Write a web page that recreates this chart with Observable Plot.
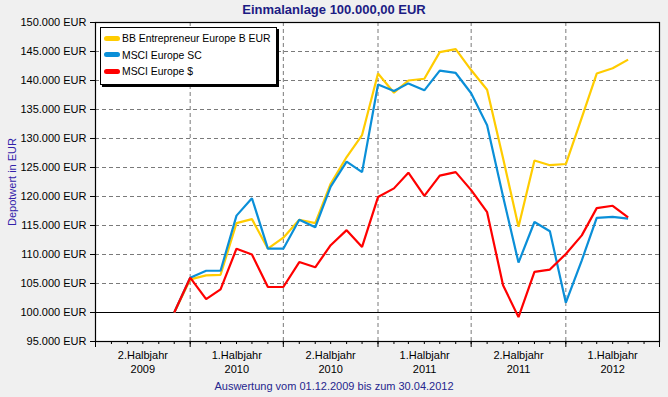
<!DOCTYPE html>
<html>
<head>
<meta charset="utf-8">
<script src="https://cdn.jsdelivr.net/npm/d3@7"></script>
<script src="https://cdn.jsdelivr.net/npm/@observablehq/plot@0.6"></script>
<style>
  html, body { margin: 0; padding: 0; background: #f0f0f0; }
  #wrap { position: relative; width: 668px; height: 397px; overflow: hidden; font-family: "Liberation Sans", Arial, sans-serif; }
  #chart { position: absolute; left: 0; top: 0; }
  .title { position: absolute; left: 0; width: 668px; top: 2px; text-align: center; font-weight: bold; font-size: 13px; color: #1c1c84; }
  .ylab { position: absolute; left: 12px; top: 182px; transform: translate(-50%, -50%) rotate(-90deg); white-space: nowrap; font-size: 11px; color: #3322aa; }
  .foot { position: absolute; left: 0; width: 668px; top: 380px; text-align: center; font-size: 11px; color: #26268e; }
  .legend { position: absolute; left: 100px; top: 27px; width: 175px; height: 56px; background: #fff; border: 1px solid #000; box-shadow: 2px 2px 0 #000; }
  .item { position: absolute; left: 3px; height: 14px; font-size: 10.4px; color: #000; line-height: 14px; white-space: nowrap; }
  .sw { display: inline-block; width: 16px; height: 5px; border-radius: 3px; vertical-align: middle; margin-right: 2px; position: relative; top: -1px; }
</style>
</head>
<body>
<div id="wrap">
  <div id="chart"></div>
  <div class="title">Einmalanlage 100.000,00 EUR</div>
  <div class="ylab">Depotwert in EUR</div>
  <div class="foot">Auswertung vom 01.12.2009 bis zum 30.04.2012</div>
  <div class="legend" id="legend"></div>
</div>
<script>
// ---- data ----
const dates = ["2009-12-01","2010-01-01","2010-02-01","2010-03-01","2010-04-01","2010-05-01",
  "2010-06-01","2010-07-01","2010-08-01","2010-09-01","2010-10-01","2010-11-01",
  "2010-12-01","2011-01-01","2011-02-01","2011-03-01","2011-04-01","2011-05-01",
  "2011-06-01","2011-07-01","2011-08-01","2011-09-01","2011-10-01","2011-11-01",
  "2011-12-01","2012-01-01","2012-02-01","2012-03-01","2012-04-01","2012-05-01"];
const bbEntrepreneur = [100000,105700,106400,106500,115400,116100,111000,112900,116000,115400,
  122200,126800,130600,141200,137900,140000,140300,144900,145400,141800,
  138400,126600,114800,126200,125400,125600,133600,141200,142100,143600];
const msciEuropeSC = [100000,106000,107200,107200,116700,119700,111000,111000,116000,114700,
  121700,126000,124200,139300,138200,139500,138300,141700,141300,137800,
  132300,120000,108600,115600,114000,101700,109000,116300,116500,116200];
const msciEuropeUSD = [100000,106000,102300,104000,111000,110000,104400,104400,108700,107800,
  111600,114200,111300,119900,121400,124100,120100,123600,124200,121100,
  117300,104700,99200,107000,107400,110100,113300,118000,118400,116400];

const seriesNames = ["BB Entrepreneur Europe B EUR", "MSCI Europe SC", "MSCI Europe $"];
const seriesColors = ["#ffcc00", "#0a8fd8", "#ff0000"];

const yTicks = [95000,100000,105000,110000,115000,120000,125000,130000,135000,140000,145000,150000];
const halfYearStarts = ["2009-07-01","2010-01-01","2010-07-01","2011-01-01","2011-07-01","2012-01-01","2012-07-01"];
const halfYearLabels = ["2.Halbjahr\n2009","1.Halbjahr\n2010","2.Halbjahr\n2010","1.Halbjahr\n2011","2.Halbjahr\n2011","1.Halbjahr\n2012"];

// ---- build ----
const parse = d3.utcParse("%Y-%m-%d");
const series = [bbEntrepreneur, msciEuropeSC, msciEuropeUSD];
const rows = [];
series.forEach((vals, s) => vals.forEach((v, i) => rows.push({date: parse(dates[i]), value: v, name: seriesNames[s]})));

const starts = halfYearStarts.map(parse);
const halves = halfYearLabels.map((lab, i) => ({mid: new Date((+starts[i] + +starts[i + 1]) / 2), label: lab}));
const months = d3.utcMonth.range(starts[0], d3.utcDay.offset(starts[starts.length - 1], 1));
const inner = starts.slice(1, -1);

const de = d3.formatLocale({decimal: ",", thousands: ".", grouping: [3], currency: ["", " €"]});
const fmt = de.format(",");

const chart = Plot.plot({
  width: 668,
  height: 397,
  marginTop: 22,
  marginRight: 9,
  marginBottom: 56,
  marginLeft: 95,
  style: {background: "transparent", fontFamily: "'Liberation Sans', Arial, sans-serif", fontSize: "11px", color: "#000"},
  x: {type: "utc", domain: [starts[0], starts[starts.length - 1]]},
  y: {domain: [95000, 150000]},
  color: {domain: seriesNames, range: seriesColors},
  marks: [
    Plot.frame({fill: "#fff", stroke: null}),
    Plot.ruleY(yTicks.filter(v => v > 100000 && v < 150000), {stroke: "#7a7a7a", strokeDasharray: "4,3", strokeWidth: 1}),
    Plot.ruleX(inner, {stroke: "#7a7a7a", strokeDasharray: "4,3", strokeWidth: 1}),
    Plot.ruleY([100000], {stroke: "#000", strokeWidth: 1.2}),
    Plot.line(rows, {x: "date", y: "value", z: "name", stroke: "name", strokeWidth: 2.2, strokeLinejoin: "miter", strokeLinecap: "butt"}),
    Plot.frame({stroke: "#000", strokeWidth: 1.2}),
    Plot.axisY(yTicks, {tickSize: 5, tickPadding: 4, tickFormat: d => fmt(d) + " EUR", fontSize: 11, label: null, stroke: "#000"}),
    Plot.axisX(months, {tickSize: 3, tickFormat: () => "", label: null, stroke: "#000"}),
    Plot.axisX(starts, {tickSize: 6, tickFormat: () => "", label: null, stroke: "#000"}),
    Plot.text(halves, {x: "mid", text: "label", frameAnchor: "bottom", lineAnchor: "top", dy: 7, lineHeight: 1.32, fontSize: 11, fill: "#000"})
  ]
});
document.getElementById("chart").appendChild(chart);

// legend
const lg = document.getElementById("legend");
seriesNames.forEach((n, i) => {
  const it = document.createElement("div");
  it.className = "item";
  it.style.top = (4 + i * 16.5) + "px";
  const sw = document.createElement("span");
  sw.className = "sw";
  sw.style.background = seriesColors[i];
  it.appendChild(sw);
  it.appendChild(document.createTextNode(n));
  lg.appendChild(it);
});
</script>
</body>
</html>
